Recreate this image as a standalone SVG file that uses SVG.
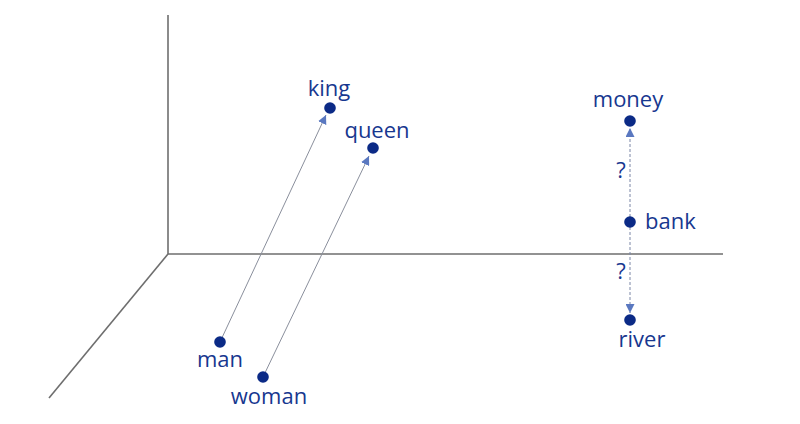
<svg xmlns="http://www.w3.org/2000/svg" width="800" height="424" viewBox="0 0 800 424">
<defs>
<style>
.axis{stroke:#6e6e6e;stroke-width:1.6;fill:none}
.link{stroke:#8a8f9c;stroke-width:1;fill:none}
.dash{stroke:#7b86a6;stroke-width:1;stroke-dasharray:3 2;fill:none}
.dot{fill:#0b2a86}
.lbl{font-family:"Open Sans","Liberation Sans",sans-serif;font-size:22px;font-weight:500;fill:#17378f}
</style>
<marker id="ah" viewBox="0 0 10 10" refX="10" refY="5" markerWidth="9" markerHeight="9" markerUnits="userSpaceOnUse" orient="auto">
<path d="M0,0 L10,5 L0,10 z" fill="#5a78c0"/>
</marker>
</defs>
<rect width="800" height="424" fill="#ffffff"/>
<g id="axes">
<line class="axis" x1="168" y1="15" x2="168" y2="254"/>
<line class="axis" x1="168" y1="254" x2="723" y2="254"/>
<line class="axis" x1="168" y1="254" x2="49" y2="398"/>
</g>
<g id="connectors">
<line class="link" x1="220" y1="342" x2="326" y2="115" marker-end="url(#ah)"/>
<line class="link" x1="263" y1="377" x2="369" y2="156" marker-end="url(#ah)"/>
<line class="dash" x1="630" y1="222" x2="630" y2="128" marker-end="url(#ah)"/>
<line class="dash" x1="630" y1="222" x2="630" y2="313" marker-end="url(#ah)"/>
</g>
<g id="king"><circle class="dot" cx="330" cy="108" r="5.8"/><text class="lbl" x="329" y="96" text-anchor="middle">king</text></g>
<g id="queen"><circle class="dot" cx="373" cy="148" r="5.8"/><text class="lbl" x="377" y="138" text-anchor="middle">queen</text></g>
<g id="man"><circle class="dot" cx="220" cy="342" r="5.8"/><text class="lbl" x="220" y="367" text-anchor="middle">man</text></g>
<g id="woman"><circle class="dot" cx="263" cy="377" r="5.8"/><text class="lbl" x="269" y="404" text-anchor="middle">woman</text></g>
<g id="money"><circle class="dot" cx="630" cy="121" r="5.8"/><text class="lbl" x="628" y="107" text-anchor="middle">money</text></g>
<g id="bank"><circle class="dot" cx="630" cy="222" r="5.8"/><text class="lbl" x="645" y="229">bank</text></g>
<g id="river"><circle class="dot" cx="630" cy="320" r="5.8"/><text class="lbl" x="642" y="347" text-anchor="middle">river</text></g>
<g id="q1"><text class="lbl" x="621" y="178" text-anchor="middle">?</text></g>
<g id="q2"><text class="lbl" x="621" y="279" text-anchor="middle">?</text></g>
</svg>
